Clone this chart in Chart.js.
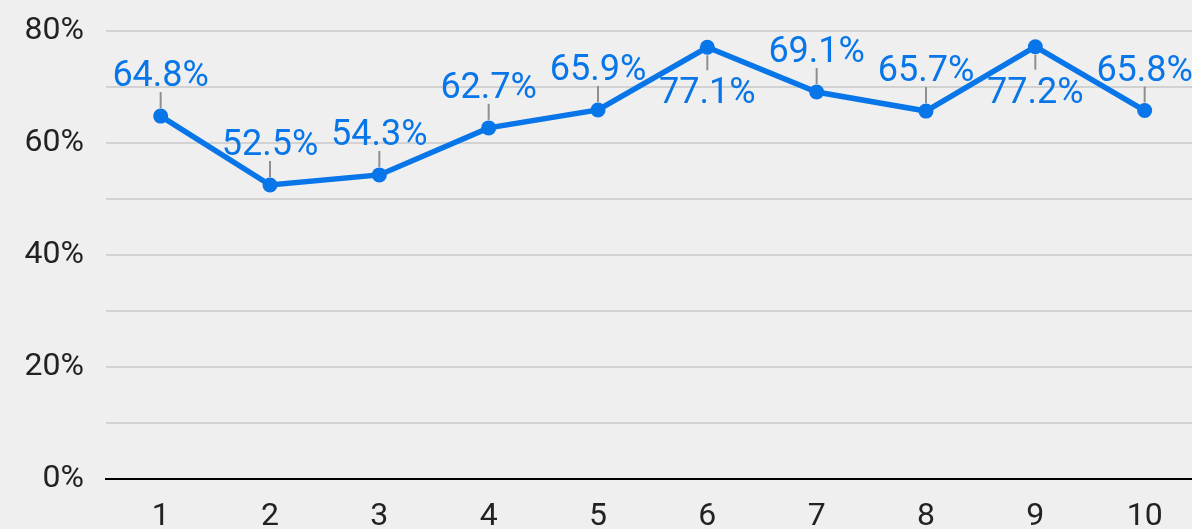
<!DOCTYPE html>
<html>
<head>
<meta charset="utf-8">
<script src="https://cdn.jsdelivr.net/npm/chart.js@4"></script>
<style>
  html, body { margin: 0; padding: 0; background: #efefef; }
  #wrap { width: 1192px; height: 529px; }
</style>
</head>
<body>
<div id="wrap"><canvas id="chart"></canvas></div>
<script>
// chart data
const categories = [1, 2, 3, 4, 5, 6, 7, 8, 9, 10];
const values = [64.8, 52.5, 54.3, 62.7, 65.9, 77.1, 69.1, 65.7, 77.2, 65.8];
const yTicks = [0, 20, 40, 60, 80];

const blue = '#0875e8';

// draws the value labels with small grey leader lines
const valueLabels = {
  id: 'valueLabels',
  afterDatasetsDraw(chart) {
    const ctx = chart.ctx;
    const meta = chart.getDatasetMeta(0);
    const top = chart.chartArea.top;
    ctx.save();
    ctx.font = '36px Roboto';
    ctx.textAlign = 'center';
    meta.data.forEach((pt, i) => {
      const text = values[i].toFixed(1) + '%';
      // put the label under the point if it would hit the top
      const below = pt.y - 30 - 26 < top - 8;
      ctx.strokeStyle = '#8f8f8f';
      ctx.lineWidth = 2;
      ctx.beginPath();
      if (below) {
        ctx.moveTo(pt.x, pt.y + 8);
        ctx.lineTo(pt.x, pt.y + 23);
      } else {
        ctx.moveTo(pt.x, pt.y - 8);
        ctx.lineTo(pt.x, pt.y - 24);
      }
      ctx.stroke();
      ctx.fillStyle = blue;
      ctx.textBaseline = 'alphabetic';
      ctx.fillText(text, pt.x, below ? pt.y + 56 : pt.y - 30);
    });
    ctx.restore();
  }
};

const ctx = document.getElementById('chart').getContext('2d');
new Chart(ctx, {
  type: 'line',
  data: {
    datasets: [{
      data: categories.map((c, i) => ({ x: c, y: values[i] })),
      borderColor: blue,
      backgroundColor: blue,
      borderWidth: 5.5,
      pointRadius: 7.5,
      pointHoverRadius: 7.5,
      pointBorderWidth: 0,
      tension: 0,
    }],
  },
  options: {
    responsive: true,
    maintainAspectRatio: false,
    animation: false,
    events: [],
    layout: {
      autoPadding: false,
      padding: { top: 31, left: 0, right: 0, bottom: 0 },
    },
    plugins: {
      legend: { display: false },
      title: { display: false },
      tooltip: { enabled: false },
    },
    scales: {
      x: {
        type: 'linear',
        bounds: 'data',
        min: 0.5,
        max: 10.433,
        afterBuildTicks: (scale) => {
          scale.ticks = categories.map(v => ({ value: v }));
        },
        afterFit: (scale) => {
          scale.height = 50;
          scale.paddingLeft = 0;
          scale.paddingRight = 0;
        },
        grid: { display: false, drawTicks: false },
        border: { display: true, color: '#000000', width: 2 },
        ticks: {
          color: '#222222',
          font: { family: 'Roboto', size: 32, lineHeight: 1 },
          padding: 22,
          maxRotation: 0,
          autoSkip: false,
        },
      },
      y: {
        min: 0,
        max: 80,
        afterFit: (scale) => {
          scale.width = 106;
          scale.paddingTop = 0;
          scale.paddingBottom = 0;
        },
        grid: {
          color: '#d2d2d2',
          lineWidth: 2,
          drawTicks: false,
        },
        border: { display: false },
        ticks: {
          stepSize: 10,
          color: '#222222',
          font: { family: 'Roboto', size: 32 },
          padding: 22,
          callback: (v) => yTicks.includes(v) ? v + '%' : '',
        },
      },
    },
  },
  plugins: [valueLabels],
});
</script>
</body>
</html>
